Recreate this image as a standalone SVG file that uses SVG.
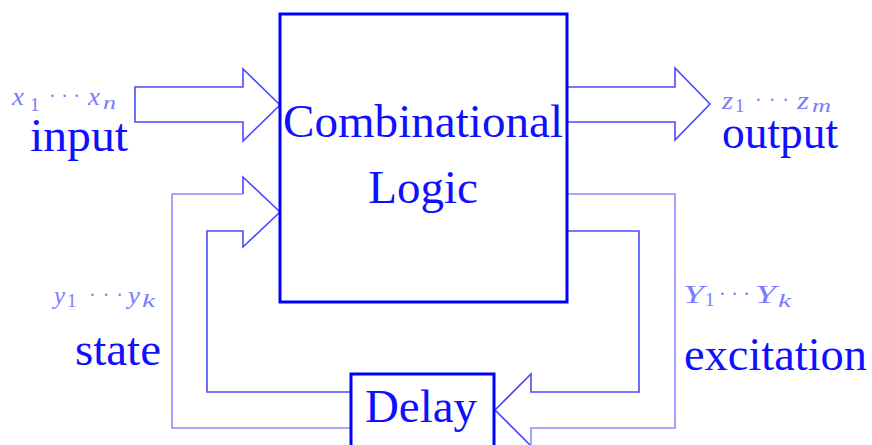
<svg xmlns="http://www.w3.org/2000/svg" width="872" height="445" viewBox="0 0 872 445">
  <style>
    .block { fill: #ffffff; stroke: #0000ff; stroke-width: 3; }
    .label { font-family: "Liberation Serif", "Times New Roman", serif; fill: #1010ff; }
    .big { font-size: 47px; }
    .math { font-family: "Liberation Serif", "Times New Roman", serif; font-style: italic; font-size: 25px; fill: #7c7cff; }
    .sub { font-size: 19px; }
    .num { font-style: normal; }
    .dots { font-style: normal; font-size: 20px; }
    .bus-dark { fill: none; stroke: #4a4aff; stroke-width: 1.6; stroke-linejoin: miter; }
    .bus-light { fill: none; stroke: #8c8cff; stroke-width: 1.6; stroke-linejoin: miter; }
  </style>

  <rect width="872" height="445" fill="#ffffff"/>

  <!-- wide bus arrows -->
  <g id="connectors">
    <!-- input bus into the logic block -->
    <path class="bus-dark" d="M135,87 H243 V69 L280,105 L243,141 V122 H135 Z"/>
    <!-- output bus leaving the logic block -->
    <path class="bus-dark" d="M567,87 H675 V68 L710,104 L675,140 V122 H567"/>
    <!-- state feedback: delay output back to the logic block -->
    <path class="bus-light" d="M351,428 H172 V194 H243"/>
    <path class="bus-dark" d="M243,194 V177 L280,212 L243,247 V231 H207 V392 H351"/>
    <!-- excitation: logic block into the delay -->
    <path class="bus-dark" d="M567,231 H639 V392 H531 V374 L495,410 L531,446"/>
    <path class="bus-light" d="M531,446 V428 H675 V194 H567"/>
  </g>

  <g id="combinational-logic">
    <rect class="block" x="280" y="14" width="287" height="288"/>
    <text class="label big" x="283" y="137" textLength="280" lengthAdjust="spacingAndGlyphs">Combinational</text>
    <text class="label big" x="423" y="203" text-anchor="middle">Logic</text>
  </g>

  <g id="delay">
    <rect class="block" x="351" y="374" width="143" height="80"/>
    <text class="label big" x="365" y="422" textLength="112" lengthAdjust="spacingAndGlyphs">Delay</text>
  </g>

  <g id="input-label">
    <text class="math" x="12" y="105" textLength="12" lengthAdjust="spacingAndGlyphs">x</text>
    <text class="math sub num" x="30" y="111">1</text>
    <text class="math dots" x="49" y="103" textLength="31" lengthAdjust="spacing">···</text>
    <text class="math" x="88" y="105" textLength="12" lengthAdjust="spacingAndGlyphs">x</text>
    <text class="math sub" x="103" y="109" textLength="13" lengthAdjust="spacingAndGlyphs">n</text>
    <text class="label big" x="30" y="151" textLength="98" lengthAdjust="spacingAndGlyphs">input</text>
  </g>

  <g id="output-label">
    <text class="math" x="722" y="109" textLength="11" lengthAdjust="spacingAndGlyphs">z</text>
    <text class="math sub num" x="735" y="112">1</text>
    <text class="math dots" x="755" y="107" textLength="34" lengthAdjust="spacing">···</text>
    <text class="math" x="797" y="109" textLength="12" lengthAdjust="spacingAndGlyphs">z</text>
    <text class="math sub" x="812" y="112" textLength="19" lengthAdjust="spacingAndGlyphs">m</text>
    <text class="label big" x="722" y="148" textLength="116" lengthAdjust="spacingAndGlyphs">output</text>
  </g>

  <g id="state-label">
    <text class="math" x="54" y="304" textLength="11" lengthAdjust="spacingAndGlyphs">y</text>
    <text class="math sub num" x="67" y="307">1</text>
    <text class="math dots" x="89" y="302" textLength="34" lengthAdjust="spacing">···</text>
    <text class="math" x="128" y="304" textLength="12" lengthAdjust="spacingAndGlyphs">y</text>
    <text class="math sub" x="142" y="307" textLength="13" lengthAdjust="spacingAndGlyphs">k</text>
    <text class="label big" x="75" y="365" textLength="86" lengthAdjust="spacingAndGlyphs">state</text>
  </g>

  <g id="excitation-label">
    <text class="math" x="683" y="303" textLength="21" lengthAdjust="spacingAndGlyphs">Y</text>
    <text class="math sub num" x="705" y="306">1</text>
    <text class="math dots" x="719" y="301" textLength="31" lengthAdjust="spacing">···</text>
    <text class="math" x="755" y="303" textLength="21" lengthAdjust="spacingAndGlyphs">Y</text>
    <text class="math sub" x="778" y="307" textLength="13" lengthAdjust="spacingAndGlyphs">k</text>
    <text class="label big" x="684" y="370" textLength="183" lengthAdjust="spacingAndGlyphs">excitation</text>
  </g>
</svg>
